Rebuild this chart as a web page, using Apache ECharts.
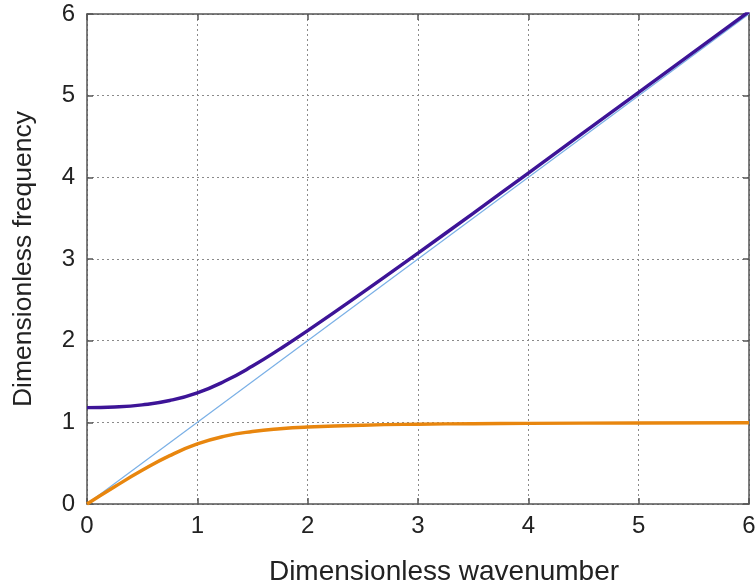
<!DOCTYPE html>
<html><head><meta charset="utf-8">
<script src="https://cdn.jsdelivr.net/npm/echarts@6/dist/echarts.min.js"></script>
<style>html,body{margin:0;padding:0;background:#fff}#c{width:756px;height:586px}</style>
</head><body><div id="c"></div>
<script>
// Dimensionless wavenumber (x) values
const k = [0, 0.25, 0.5, 0.75, 1, 1.25, 1.5, 1.75, 2, 2.5, 3, 3.5, 4, 5, 6];
// Upper branch (purple)
const upper = [1.18, 1.188, 1.214, 1.267, 1.361, 1.505, 1.689, 1.899, 2.122, 2.591, 3.072, 3.560, 4.052, 5.041, 6.03];
// Lower branch (orange)
const lower = [0, 0.211, 0.412, 0.592, 0.735, 0.831, 0.888, 0.922, 0.942, 0.965, 0.977, 0.983, 0.987, 0.992, 0.994];
// Light line (thin blue)
const lightK = [0, 6];
const lightW = [0, 6];
const xTicks = [0, 1, 2, 3, 4, 5, 6];
const yTicks = [0, 1, 2, 3, 4, 5, 6];

const font = 'Liberation Sans, Arial, sans-serif';
const pair = (xs, ys) => xs.map((x, i) => [x, ys[i]]);
const chart = echarts.init(document.getElementById('c'), null, {renderer: 'canvas'});
const gridLine = {show: true, lineStyle: {color: '#8a8a8a', width: 1, type: [2, 3]}};
const axisLine = {show: true, onZero: false, lineStyle: {color: '#555', width: 1.5}};
const tick = {show: true, inside: true, length: 6, lineStyle: {color: '#555', width: 1.5}};
chart.setOption({
  animation: false,
  grid: {left: 87, right: 7, top: 14, bottom: 82, containLabel: false, outerBoundsMode: 'none'},
  xAxis: [{
    type: 'value', min: 0, max: 6, interval: 1, position: 'bottom',
    name: 'Dimensionless wavenumber', nameLocation: 'middle', nameGap: 54,
    nameTextStyle: {fontFamily: font, fontSize: 28, color: '#222', padding: [0, 0, 0, 52]},
    axisLine: axisLine, axisTick: tick, splitLine: gridLine,
    axisLabel: {fontFamily: font, fontSize: 24, color: '#222', margin: 10,
      formatter: v => xTicks.includes(v) ? String(v) : ''}
  }, {
    type: 'value', min: 0, max: 6, interval: 1, position: 'top',
    axisLine: axisLine, axisTick: tick, splitLine: {show: false}, axisLabel: {show: false}
  }],
  yAxis: [{
    type: 'value', min: 0, max: 6, interval: 1, position: 'left',
    name: 'Dimensionless frequency', nameLocation: 'middle', nameGap: 50,
    nameTextStyle: {fontFamily: font, fontSize: 26.5, color: '#222'},
    axisLine: axisLine, axisTick: tick, splitLine: gridLine,
    axisLabel: {fontFamily: font, fontSize: 24, color: '#222', margin: 12,
      formatter: v => yTicks.includes(v) ? String(v) : ''}
  }, {
    type: 'value', min: 0, max: 6, interval: 1, position: 'right',
    axisLine: axisLine, axisTick: tick, splitLine: {show: false}, axisLabel: {show: false}
  }],
  series: [{
    type: 'line', data: pair(lightK, lightW), showSymbol: false, clip: true,
    lineStyle: {color: '#7ab0e6', width: 1.2}, z: 2
  }, {
    type: 'line', data: pair(k, upper), smooth: true, showSymbol: false, clip: true,
    lineStyle: {color: '#3d1497', width: 3.4}, z: 3
  }, {
    type: 'line', data: pair(k, lower), smooth: true, showSymbol: false, clip: true,
    lineStyle: {color: '#e8860e', width: 3.4}, z: 3
  }]
});
</script></body></html>
